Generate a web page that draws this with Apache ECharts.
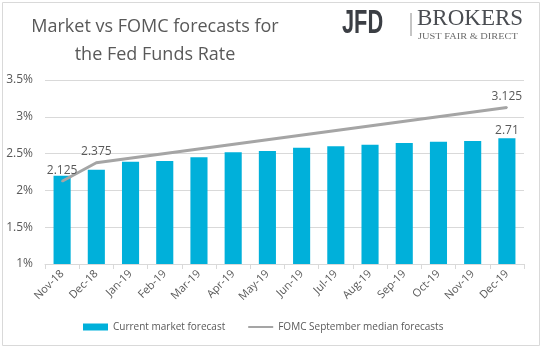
<!DOCTYPE html>
<html>
<head>
<meta charset="utf-8">
<script src="https://cdn.jsdelivr.net/npm/echarts@6/dist/echarts.min.js"></script>
<style>
  html, body { margin: 0; padding: 0; background: #fff; }
  #main { width: 543px; height: 351px; }
</style>
</head>
<body>
<div id="main"></div>
<script>
'use strict';
// 数据
var months = ['Nov-18', 'Dec-18', 'Jan-19', 'Feb-19', 'Mar-19', 'Apr-19', 'May-19',
              'Jun-19', 'Jul-19', 'Aug-19', 'Sep-19', 'Oct-19', 'Nov-19', 'Dec-19'];
var marketForecast = [2.2, 2.28, 2.39, 2.4, 2.45, 2.52, 2.535, 2.58, 2.6, 2.62, 2.645, 2.66, 2.67, 2.71];
// FOMC median only known at these points, the line connects them
var fomcForecast = [2.125, 2.375, null, null, null, null, null, null, null, null, null, null, null, 3.125];
var yTicks = [1, 1.5, 2, 2.5, 3, 3.5];

var txtColor = '#595959';
var baseFont = '"Open Sans", "Noto Sans", sans-serif';

var myChart = echarts.init(document.getElementById('main'));
var option = {
    animation: false,
    grid: { left: 45, right: 19, top: 80, bottom: 87 },
    graphic: [
        // 外框
        { type: 'rect', shape: { x: 2.5, y: 2.5, width: 537, height: 343 },
          style: { fill: 'none', stroke: '#d9d9d9', lineWidth: 1 }, silent: true },
        // 标题
        { type: 'text', x: 155, y: 13,
          style: { text: 'Market vs FOMC forecasts for\nthe Fed Funds Rate', align: 'center',
                   font: '18px ' + baseFont, lineHeight: 28, fill: txtColor } },
        // logo
        { type: 'text', x: 342, y: 7, scaleX: 0.66,
          style: { text: 'JFD', font: 'bold 33px "Liberation Sans", sans-serif', fill: '#3b3e44' } },
        { type: 'line', shape: { x1: 411, y1: 13, x2: 411, y2: 36 },
          style: { stroke: '#8a8a8a', lineWidth: 1 } },
        { type: 'text', x: 417, y: 7,
          style: { text: 'BROKERS', font: '23px "Liberation Serif", serif', fill: '#4a4d52' } },
        { type: 'text', x: 418, y: 32, scaleX: 1.22,
          style: { text: 'JUST FAIR & DIRECT', font: '8.5px "Liberation Serif", serif', fill: '#6a6a6a' } }
    ],
    legend: {
        bottom: 14,
        left: 78,
        itemGap: 22,
        itemWidth: 25,
        itemHeight: 7,
        textStyle: { color: txtColor, fontSize: 10, fontFamily: baseFont },
        data: [
            { name: 'Current market forecast', icon: 'rect' },
            { name: 'FOMC September median forecasts', itemStyle: { opacity: 0 } }
        ]
    },
    xAxis: {
        type: 'category',
        data: months,
        axisLine: { lineStyle: { color: '#d9d9d9' } },
        axisTick: { show: true, length: 5, lineStyle: { color: '#d9d9d9' } },
        axisLabel: { rotate: 45, color: txtColor, fontSize: 11, fontFamily: baseFont, margin: 8 }
    },
    yAxis: {
        type: 'value',
        min: yTicks[0],
        max: yTicks[yTicks.length - 1],
        interval: 0.5,
        axisLine: { show: false },
        axisTick: { show: false },
        axisLabel: {
            color: txtColor, fontSize: 12, fontFamily: baseFont, margin: 12,
            formatter: function (val) { return val + '%'; }
        },
        splitLine: { lineStyle: { color: '#d9d9d9' } }
    },
    series: [
        {
            name: 'Current market forecast',
            type: 'bar',
            data: marketForecast,
            barWidth: '50%',
            itemStyle: { color: '#00b0da' },
            label: {
                show: true, position: 'top', distance: 2,
                color: txtColor, fontSize: 12, fontFamily: baseFont,
                formatter: function (p) {
                    return p.dataIndex === marketForecast.length - 1 ? String(p.value) : '';
                }
            }
        },
        {
            name: 'FOMC September median forecasts',
            type: 'line',
            data: fomcForecast,
            connectNulls: true,
            symbol: 'circle',
            symbolSize: 2,
            showSymbol: true,
            z: 3,
            lineStyle: { color: '#a5a5a5', width: 3 },
            itemStyle: { color: '#a5a5a5' },
            label: {
                show: true, position: 'top', distance: 4,
                color: txtColor, fontSize: 12, fontFamily: baseFont,
                formatter: function (p) {
                    return p.value == null ? '' : Number(p.value).toFixed(3);
                }
            }
        }
    ]
};
myChart.setOption(option);
</script>
</body>
</html>
